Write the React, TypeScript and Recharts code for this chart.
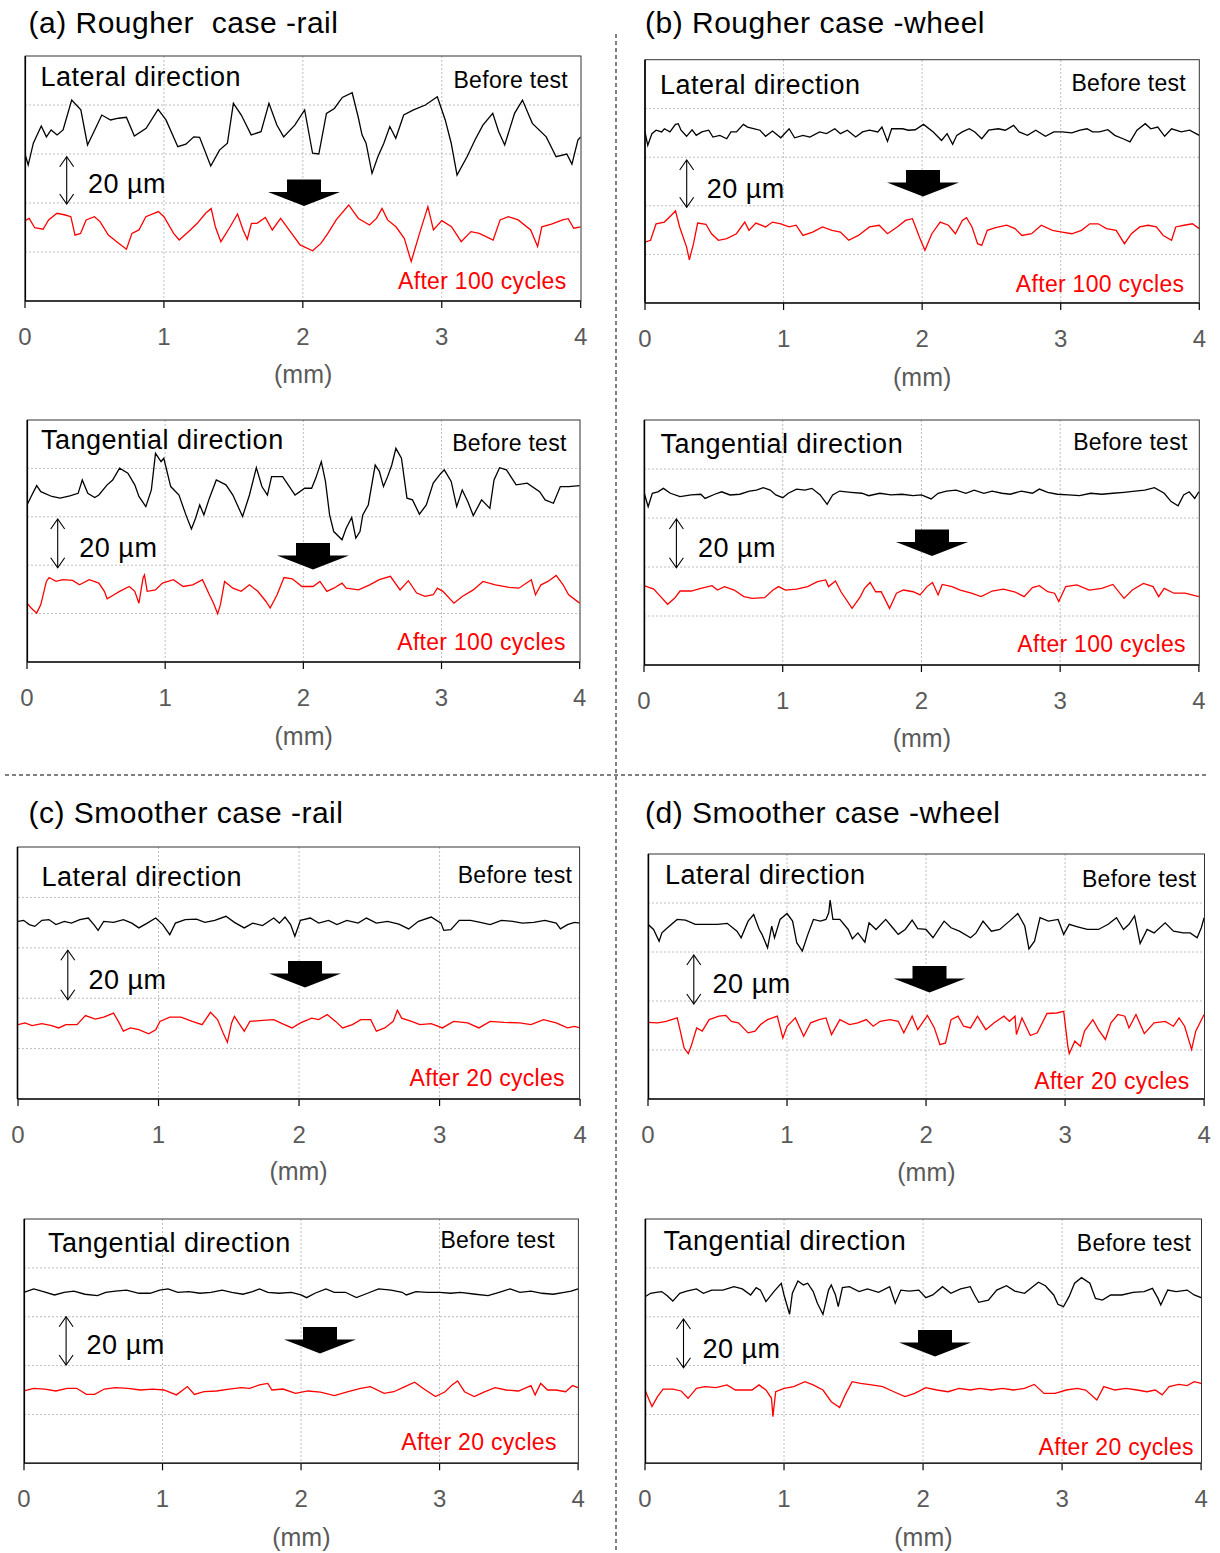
import React from 'react';
import { LineChart, Line, XAxis, YAxis, CartesianGrid } from 'recharts';

type P = [number, number];

const xTicks = [0, 1, 2, 3, 4];
const yTicks = [0, 20, 40, 60, 80, 100];
const gridX = [1, 2, 3];
const gridY = [20, 40, 60, 80];

const titles = ['(a) Rougher  case -rail', '(b) Rougher case -wheel', '(c) Smoother case -rail', '(d) Smoother case -wheel'];

const aLatBefore: P[] = [[0,60],[0.023,55.5],[0.06,64.4],[0.117,71.4],[0.154,67],[0.188,69.8],[0.231,67.8],[0.274,69.8],[0.336,82],[0.402,78],[0.45,63.7],[0.502,69.8],[0.553,75.9],[0.616,73.9],[0.673,74.6],[0.73,75],[0.787,67.3],[0.872,70.5],[0.958,78.2],[1.015,73.9],[1.1,63],[1.158,64],[1.215,67],[1.257,66.8],[1.337,55.1],[1.4,61.6],[1.457,64.4],[1.5,80.7],[1.557,75.9],[1.628,67.8],[1.699,69.1],[1.756,80.7],[1.813,71.8],[1.862,67],[1.942,71.8],[2.013,78],[2.07,60.3],[2.115,60],[2.17,76.6],[2.227,78.6],[2.284,83.1],[2.355,85],[2.398,75.2],[2.426,67.8],[2.455,64.4],[2.498,52.1],[2.54,58.9],[2.583,64.4],[2.626,71.2],[2.669,66.4],[2.726,75.9],[2.797,78],[2.882,80],[2.968,83.4],[3.025,73.9],[3.068,64.4],[3.11,51.4],[3.182,58.9],[3.239,65.7],[3.296,71.8],[3.367,76.6],[3.41,69.1],[3.453,63.7],[3.524,76.6],[3.581,82],[3.652,72.5],[3.752,67],[3.823,58.9],[3.9,60],[3.937,55.9],[3.98,65.7],[4,67]];
const aLatAfter: P[] = [[0,32.8],[0.03,33.7],[0.07,29.9],[0.13,29.3],[0.17,33.1],[0.23,35.8],[0.29,35.1],[0.33,34.4],[0.36,26.9],[0.40,27.6],[0.44,33.1],[0.50,34.4],[0.54,32.4],[0.60,26.9],[0.66,24.2],[0.73,21.1],[0.77,27.6],[0.82,29],[0.87,34.4],[0.96,36.5],[1.00,34.4],[1.07,27.6],[1.11,24.9],[1.19,29],[1.24,31.7],[1.30,35.8],[1.34,37.8],[1.37,30.3],[1.41,24.2],[1.47,29.7],[1.53,35.5],[1.57,29],[1.60,25.2],[1.63,31.7],[1.67,31.7],[1.73,34.1],[1.78,29],[1.84,33.7],[1.91,28.3],[1.98,22.9],[2.07,20.5],[2.13,23.5],[2.18,27.6],[2.24,33.1],[2.33,39.2],[2.40,33.7],[2.48,31],[2.53,33.7],[2.57,37.8],[2.61,33.1],[2.67,30.3],[2.73,25.6],[2.78,16.1],[2.84,27.6],[2.90,38.5],[2.94,29],[3.00,32.8],[3.07,30.3],[3.14,24.2],[3.21,28.3],[3.27,27.6],[3.37,24.9],[3.42,33.1],[3.48,34.4],[3.55,33.1],[3.64,29],[3.69,22.2],[3.72,30.3],[3.79,31.4],[3.87,33.1],[3.91,33.6],[3.95,29.7],[4,30.3]];
const aTanBefore: P[] = [[0,64.9],[0.03,68.4],[0.07,72.9],[0.10,70.4],[0.18,68.4],[0.24,67.7],[0.31,68.6],[0.37,69.7],[0.40,75.2],[0.44,69.7],[0.49,68],[0.52,69],[0.58,73.2],[0.62,75.2],[0.67,80.1],[0.73,78],[0.78,73.2],[0.81,68.4],[0.86,64.2],[0.90,71.1],[0.93,86.2],[0.97,82.8],[0.99,84.2],[1.04,72.5],[1.10,69],[1.15,60.8],[1.19,55],[1.22,59.4],[1.25,64.9],[1.28,60.8],[1.32,67.7],[1.37,75.2],[1.44,73.2],[1.49,69],[1.56,60.1],[1.61,69],[1.66,80.3],[1.70,72.5],[1.74,69],[1.77,76.6],[1.85,76.6],[1.89,73.2],[1.94,69],[2.01,71.8],[2.06,71.8],[2.09,76],[2.13,82.8],[2.16,74.6],[2.19,60.8],[2.22,53.9],[2.28,50.5],[2.31,55.3],[2.35,59.7],[2.38,51.2],[2.41,53.9],[2.43,60.8],[2.47,64.9],[2.52,81.4],[2.55,78.8],[2.58,72.5],[2.61,76.6],[2.64,81.4],[2.67,88.3],[2.71,84.2],[2.75,67.7],[2.79,67],[2.84,61.1],[2.89,64.9],[2.94,73.9],[2.99,77.6],[3.02,79.4],[3.07,74.6],[3.11,64.2],[3.15,71.1],[3.19,66.3],[3.23,60.5],[3.29,67],[3.35,63.5],[3.38,75.2],[3.42,80.3],[3.47,79.4],[3.54,73.2],[3.62,73.9],[3.71,70.4],[3.75,67],[3.81,65.6],[3.86,72.5],[3.92,72.5],[4,72.9]];
const aTanAfter: P[] = [[0,24.3],[0.03,22.3],[0.07,20.2],[0.10,23.7],[0.14,33.3],[0.16,34.9],[0.21,33.3],[0.26,34],[0.33,33.7],[0.38,31.9],[0.45,34],[0.52,32.6],[0.56,29.2],[0.58,26.1],[0.63,27.8],[0.67,29.2],[0.74,31.2],[0.78,29.2],[0.81,24.3],[0.84,34.7],[0.85,36],[0.87,29.2],[0.93,29.8],[0.98,32.6],[1.06,34],[1.13,31.2],[1.20,31.9],[1.27,34],[1.32,27.8],[1.35,24.3],[1.38,19.9],[1.40,23.7],[1.43,33.3],[1.49,30.5],[1.55,29.2],[1.61,31.9],[1.67,29.2],[1.73,25],[1.76,22.3],[1.81,27.8],[1.86,34.9],[1.92,34.4],[1.99,31.2],[2.07,31.2],[2.12,33.3],[2.17,29.2],[2.22,30.5],[2.28,32.6],[2.31,30.5],[2.40,29.8],[2.48,31.9],[2.55,34],[2.63,35.4],[2.70,29.8],[2.76,33.6],[2.82,28.5],[2.88,27.1],[2.94,27.8],[2.97,30.5],[3.01,29.2],[3.09,24.3],[3.15,27.1],[3.23,29.8],[3.30,33.3],[3.39,31.9],[3.49,30.8],[3.56,30.5],[3.65,34],[3.68,27.8],[3.72,31.9],[3.77,33.3],[3.83,35.8],[3.88,31.9],[3.92,27.8],[4,24.3]];

const bLatBefore: P[] = [[0,70.4],[0.02,64.9],[0.05,69.7],[0.08,71.1],[0.12,70.4],[0.14,71.7],[0.18,70.4],[0.22,73.5],[0.24,73.8],[0.26,71.1],[0.30,68.6],[0.34,71.3],[0.37,69],[0.41,70.4],[0.46,71.1],[0.49,68.3],[0.54,69],[0.59,67.6],[0.62,70.4],[0.66,70.4],[0.71,73.5],[0.74,72.4],[0.79,71.7],[0.83,71.1],[0.87,68.6],[0.92,70.8],[0.98,68],[1.04,71.7],[1.08,68],[1.14,69],[1.19,68.3],[1.26,70.4],[1.31,69.7],[1.37,71.7],[1.41,69.7],[1.46,71.1],[1.52,68.3],[1.57,70.4],[1.62,71.1],[1.68,70.4],[1.71,72.4],[1.75,66.5],[1.78,71.7],[1.86,71.7],[1.90,71.1],[1.95,71.3],[2.01,73.5],[2.08,70.4],[2.14,66.9],[2.18,69.7],[2.22,65.3],[2.25,69],[2.29,70.4],[2.34,71.7],[2.38,70.4],[2.43,67.6],[2.48,71.1],[2.55,71.7],[2.60,71.1],[2.66,73.1],[2.70,70.4],[2.76,69],[2.82,71.1],[2.89,68.6],[2.95,70.4],[3.01,70.4],[3.08,70],[3.14,71.1],[3.19,71.7],[3.23,70.4],[3.28,70.4],[3.34,71.3],[3.39,69],[3.45,67.6],[3.50,66.3],[3.55,71.1],[3.61,73.8],[3.65,71.7],[3.70,72.4],[3.75,68.6],[3.80,71.7],[3.87,70.4],[3.93,71.1],[4,69]];
const bLatAfter: P[] = [[0,25.1],[0.04,25.8],[0.08,32.6],[0.14,33.3],[0.19,36.1],[0.22,37.9],[0.25,31.3],[0.30,23],[0.32,17.8],[0.35,24.4],[0.38,32.9],[0.44,32.4],[0.48,28.5],[0.53,25.8],[0.59,26.5],[0.66,28.5],[0.72,33.3],[0.75,29.9],[0.80,32.9],[0.87,31.3],[0.92,33.3],[0.98,32.6],[1.04,31.3],[1.09,32],[1.14,27.8],[1.21,29.2],[1.28,31.3],[1.35,29.9],[1.41,29.2],[1.47,25.8],[1.54,27.8],[1.62,31.3],[1.69,32],[1.75,28.5],[1.82,31.3],[1.88,34],[1.93,34.7],[1.98,27.2],[2.02,21.7],[2.07,28.5],[2.13,33.3],[2.19,32],[2.24,28.5],[2.29,34],[2.32,35.1],[2.36,31.3],[2.40,24.4],[2.43,23.7],[2.47,29.9],[2.53,31],[2.61,32],[2.67,30.6],[2.72,27.8],[2.79,28.5],[2.86,32],[2.94,29.9],[3.01,29.2],[3.08,28.5],[3.15,29.9],[3.21,32.6],[3.27,32.6],[3.33,30.6],[3.40,29.9],[3.46,24.4],[3.51,28.5],[3.57,31.3],[3.63,32],[3.69,31.3],[3.74,27.8],[3.80,25.8],[3.83,31.3],[3.89,32],[3.95,32.6],[4,30.6]];
const bTanBefore: P[] = [[0,70.5],[0.03,64.6],[0.06,70.1],[0.10,70.7],[0.14,72.1],[0.19,70.1],[0.26,68.7],[0.34,69.4],[0.41,69.7],[0.44,68],[0.51,69.7],[0.56,70.7],[0.62,69.4],[0.69,69.7],[0.76,71],[0.81,71.4],[0.86,72.4],[0.91,71.4],[0.95,69.4],[1.00,68.3],[1.04,70.1],[1.10,71.8],[1.16,71.4],[1.21,72.1],[1.27,69.4],[1.32,65.6],[1.36,69.4],[1.41,71],[1.49,70.5],[1.57,70.1],[1.62,69.1],[1.70,70.1],[1.78,69.4],[1.86,69.7],[1.94,69.1],[2.00,69.4],[2.07,67.8],[2.12,70.1],[2.18,71],[2.25,71.4],[2.32,70.1],[2.38,71.4],[2.45,70.1],[2.51,71],[2.58,70.1],[2.64,69.7],[2.72,71],[2.80,70.1],[2.85,71.8],[2.91,70.5],[2.98,69.7],[3.06,69.4],[3.14,69.1],[3.22,70.1],[3.30,69.7],[3.38,70.1],[3.46,70.5],[3.54,71],[3.61,71.4],[3.68,72.4],[3.75,70.1],[3.80,66.7],[3.85,65],[3.89,69.4],[3.93,70.7],[3.97,68],[4,70.7]];
const bTanAfter: P[] = [[0,32.4],[0.07,31],[0.12,27.9],[0.17,24.8],[0.22,27.2],[0.26,30.2],[0.34,30.2],[0.41,31.3],[0.49,32.4],[0.53,30.6],[0.58,32],[0.65,30.6],[0.72,27.9],[0.78,27.2],[0.87,27.5],[0.93,30.6],[0.97,32],[1.02,30.6],[1.10,31],[1.18,32],[1.25,34],[1.31,34.7],[1.33,32],[1.38,34.3],[1.42,29.9],[1.50,23.1],[1.56,27.9],[1.59,31.3],[1.63,33.7],[1.67,29.9],[1.71,29.9],[1.77,23.1],[1.82,29.3],[1.87,30.6],[1.94,29.9],[1.99,28.6],[2.04,32],[2.08,33.7],[2.12,28.6],[2.15,32.9],[2.22,32],[2.28,30.6],[2.36,29.3],[2.43,27.9],[2.51,30.2],[2.59,31],[2.67,29.9],[2.74,27.9],[2.80,31.6],[2.85,32.4],[2.91,29.9],[2.96,29.3],[2.99,25.9],[3.04,32],[3.12,32.7],[3.21,30.6],[3.30,31.3],[3.38,32.9],[3.46,27.2],[3.52,30.6],[3.60,33.3],[3.67,32],[3.71,27.9],[3.75,31.3],[3.82,29.3],[3.90,29.3],[4,27.9]];

const cLatBefore: P[] = [[0,70.5],[0.04,70.9],[0.08,69.2],[0.12,68.5],[0.17,70.9],[0.22,71.2],[0.27,69.2],[0.33,70.5],[0.38,69.8],[0.44,71.2],[0.50,71.8],[0.54,69.2],[0.57,66.9],[0.61,70.5],[0.68,70.1],[0.75,71.2],[0.81,69.8],[0.86,67.9],[0.92,69.8],[0.98,71.8],[1.03,69.2],[1.08,65.2],[1.12,69.8],[1.19,71.2],[1.27,71.4],[1.33,70.1],[1.40,70.9],[1.48,72.5],[1.54,70.1],[1.61,67.9],[1.67,69.8],[1.74,68.8],[1.82,71.8],[1.86,69.8],[1.90,72.2],[1.94,69.2],[1.97,64.6],[2.01,70.9],[2.08,71.8],[2.14,69.8],[2.21,70.9],[2.27,69.2],[2.34,70.9],[2.42,69.8],[2.48,71.8],[2.55,69.8],[2.63,70.5],[2.71,69.4],[2.78,67.5],[2.85,70.5],[2.94,72.2],[3.01,69.8],[3.03,66.9],[3.08,67.2],[3.14,70.9],[3.22,70.9],[3.29,70.1],[3.36,69.2],[3.44,70.9],[3.52,70.5],[3.59,69.8],[3.67,70.1],[3.75,70.9],[3.83,69.8],[3.86,67.5],[3.91,69.2],[3.96,70.1],[4,69.8]];
const cLatAfter: P[] = [[0,29.5],[0.05,30.2],[0.10,29.1],[0.17,29.9],[0.24,29.1],[0.29,28.2],[0.34,29.5],[0.42,29.5],[0.48,33.1],[0.55,31.7],[0.61,32.5],[0.68,34.1],[0.72,30.2],[0.75,26.9],[0.80,28.2],[0.86,27.5],[0.93,25.9],[0.98,27.5],[1.01,30.8],[1.08,32.5],[1.16,32.5],[1.24,30.8],[1.31,29.5],[1.37,34.4],[1.42,31.5],[1.46,26.2],[1.49,22.5],[1.52,30.2],[1.54,32.8],[1.57,30.2],[1.61,26.9],[1.65,30.8],[1.74,31.2],[1.82,31.5],[1.88,29.9],[1.95,28.2],[2.01,30.2],[2.09,32.1],[2.14,31.5],[2.20,33.5],[2.26,30.8],[2.31,28.2],[2.38,29.5],[2.44,31.5],[2.51,31.5],[2.55,26.9],[2.61,28.2],[2.67,30.8],[2.70,35.2],[2.73,32.1],[2.80,30.8],[2.86,29.5],[2.94,29.9],[3.02,28.2],[3.10,30.8],[3.20,30.2],[3.28,28.2],[3.36,30.8],[3.46,30.4],[3.57,30.2],[3.65,29.5],[3.74,31.5],[3.83,30.2],[3.91,28.2],[3.96,28.8],[4,28.2]];
const cTanBefore: P[] = [[0,70],[0.07,71.4],[0.14,70.3],[0.22,68.9],[0.29,70],[0.36,70.5],[0.44,69.2],[0.53,68.6],[0.59,70],[0.66,70.5],[0.74,70.9],[0.83,69.6],[0.91,69.6],[0.98,70.9],[1.04,71.4],[1.11,70],[1.19,70.3],[1.27,69.6],[1.35,70],[1.43,70.9],[1.50,70],[1.58,69.2],[1.65,70.3],[1.70,71.4],[1.76,70],[1.84,69.6],[1.93,70],[2.00,68.9],[2.04,67.8],[2.10,69.6],[2.18,71.4],[2.24,70],[2.32,70],[2.40,67.8],[2.48,69.6],[2.56,71.4],[2.65,70.9],[2.73,70],[2.76,68.9],[2.83,70.3],[2.91,70],[3.00,70],[3.08,69.6],[3.15,70],[3.26,69.2],[3.35,68.6],[3.43,70],[3.51,71.4],[3.58,70],[3.66,70.5],[3.74,69.6],[3.82,69.2],[3.90,70],[3.95,70.5],[4,71.4]];
const cTanAfter: P[] = [[0,29.6],[0.07,30.7],[0.15,30.4],[0.23,29.6],[0.31,30.7],[0.38,30.7],[0.45,28.2],[0.51,28.2],[0.58,30.4],[0.66,31],[0.75,30.7],[0.84,30],[0.93,30.4],[1.01,30],[1.10,28],[1.18,31.4],[1.23,28.2],[1.30,29.3],[1.39,29.6],[1.48,30.4],[1.57,31],[1.63,30.7],[1.70,32.1],[1.76,32.7],[1.79,30],[1.87,30.4],[1.96,28.6],[2.05,29.6],[2.14,29.1],[2.24,27.7],[2.34,29.3],[2.43,30.7],[2.50,31.4],[2.60,28.6],[2.67,29.3],[2.75,31.4],[2.82,33.2],[2.88,30.7],[2.97,27.3],[3.04,29.3],[3.09,32.1],[3.13,33.7],[3.18,29.3],[3.25,27.3],[3.32,29.1],[3.40,31],[3.48,30],[3.57,29.6],[3.66,31.8],[3.69,28],[3.73,32.7],[3.78,30],[3.84,30],[3.91,29.3],[3.96,31.8],[4,31]];

const dLatBefore: P[] = [[0,71.3],[0.04,69.2],[0.08,64.4],[0.10,67.8],[0.14,69.9],[0.21,73.3],[0.27,73],[0.34,71.3],[0.42,71.3],[0.50,71.3],[0.57,71.7],[0.64,68.5],[0.67,65.8],[0.72,72.6],[0.76,75.3],[0.80,69.2],[0.82,67.2],[0.86,61.7],[0.89,70.6],[0.91,65.8],[0.95,73.3],[1.00,75.7],[1.04,72.6],[1.07,63.8],[1.11,60.4],[1.15,67.2],[1.19,73.3],[1.24,72.6],[1.28,73.3],[1.30,76],[1.31,81.2],[1.33,73.3],[1.38,73.3],[1.44,69.2],[1.47,65.4],[1.51,67.8],[1.56,64],[1.59,71.9],[1.64,69.2],[1.71,73.3],[1.76,69.9],[1.80,67.2],[1.85,69.2],[1.90,73],[1.94,69.5],[2.00,69.2],[2.05,65.8],[2.09,69.2],[2.13,72.6],[2.18,69.9],[2.24,68.5],[2.32,65.8],[2.36,67.8],[2.41,72.6],[2.47,68.5],[2.53,69.2],[2.60,72.6],[2.66,75.7],[2.71,70.6],[2.74,61.3],[2.78,64.4],[2.82,74],[2.88,72.6],[2.95,73.3],[2.99,67.2],[3.03,71.3],[3.09,70.3],[3.16,69.2],[3.24,69.2],[3.31,71.3],[3.37,74],[3.42,69.2],[3.46,71.3],[3.50,74.7],[3.54,63.5],[3.59,69.2],[3.64,67.8],[3.72,71.9],[3.78,68.5],[3.85,67.8],[3.90,67.8],[3.95,65.8],[3.98,69.9],[4,74]];
const dLatAfter: P[] = [[0,31.3],[0.07,31.1],[0.13,31.7],[0.21,33.1],[0.23,28.3],[0.26,20.8],[0.29,18.5],[0.31,21.5],[0.35,29],[0.39,27.7],[0.44,32.4],[0.51,33.8],[0.56,34.1],[0.60,31.7],[0.65,31.1],[0.72,27],[0.77,27.7],[0.81,30.4],[0.86,32.4],[0.93,33.8],[0.97,24.9],[1.00,29.7],[1.06,33.1],[1.12,25.6],[1.17,31.1],[1.23,32.4],[1.28,33.1],[1.32,26.3],[1.38,32.4],[1.45,30.4],[1.51,31.1],[1.57,32.4],[1.62,29.7],[1.67,31.7],[1.74,32.4],[1.80,31.7],[1.84,27],[1.90,33.8],[1.94,28.3],[2.01,34.1],[2.06,29],[2.10,22.2],[2.14,22.9],[2.18,32.4],[2.23,33.8],[2.27,29.7],[2.32,29],[2.37,33.8],[2.43,28.3],[2.49,31.1],[2.56,33.8],[2.60,31.7],[2.64,33.8],[2.65,26.3],[2.69,33.1],[2.75,25.9],[2.80,27],[2.87,34.9],[2.94,35.1],[2.99,35.8],[3.02,21.5],[3.03,18.5],[3.07,23.6],[3.11,21.5],[3.14,27.7],[3.20,32.4],[3.24,28.3],[3.29,24.3],[3.33,31.1],[3.38,34.5],[3.43,33.8],[3.46,29],[3.51,34.5],[3.57,26.7],[3.64,31.1],[3.72,31.7],[3.78,29.7],[3.82,33.1],[3.86,29.7],[3.91,20.2],[3.94,27.7],[4,34.5]];
const dTanBefore: P[] = [[0,68.2],[0.04,69.6],[0.08,70],[0.12,70.3],[0.16,68.6],[0.20,66.4],[0.25,69.6],[0.30,70.5],[0.37,71.4],[0.42,69.6],[0.48,70.9],[0.56,70.9],[0.64,72.3],[0.70,71.4],[0.76,68.9],[0.80,71.9],[0.83,70.9],[0.87,66.2],[0.93,70.5],[0.98,73.7],[1.00,68.9],[1.04,61],[1.06,69.6],[1.10,74.6],[1.14,73],[1.17,73.7],[1.21,70.3],[1.24,65.5],[1.28,61],[1.32,70.9],[1.34,73],[1.37,68.9],[1.39,64.1],[1.42,71.9],[1.47,72.3],[1.54,70.3],[1.60,71.4],[1.68,70],[1.76,72.3],[1.80,65.5],[1.84,70.9],[1.90,70.5],[1.97,70.9],[2.02,67.8],[2.07,68.9],[2.14,72.3],[2.20,69.6],[2.27,71.4],[2.34,72.3],[2.37,68.9],[2.40,65.9],[2.47,66.8],[2.53,70.9],[2.60,72.7],[2.66,70.5],[2.73,69.6],[2.78,71.9],[2.83,74.1],[2.88,72.7],[2.94,68.9],[2.97,65.1],[3.01,64.1],[3.05,68.2],[3.09,73.7],[3.14,76],[3.20,73.7],[3.24,67.5],[3.29,66.8],[3.35,68.9],[3.43,68.9],[3.51,70],[3.59,70.3],[3.65,71.6],[3.69,67.5],[3.71,64.8],[3.76,70.9],[3.82,70.3],[3.90,70.9],[3.95,68.9],[4,67.8]];
const dTanAfter: P[] = [[0,30],[0.03,25.9],[0.05,23.2],[0.09,27.3],[0.13,30.4],[0.20,30.4],[0.26,29.6],[0.31,26.6],[0.37,30.7],[0.43,31.4],[0.51,31],[0.59,32.1],[0.65,30],[0.72,30],[0.77,30],[0.82,32.1],[0.87,30],[0.91,26.6],[0.92,19.1],[0.94,29.3],[1.00,30.7],[1.07,31.4],[1.15,33.4],[1.21,32.1],[1.28,30],[1.34,25.2],[1.40,22.8],[1.44,28],[1.49,33.4],[1.55,32.7],[1.63,32.1],[1.71,31.4],[1.79,29.3],[1.87,27.3],[1.94,28.6],[2.02,31],[2.10,30],[2.18,29.3],[2.26,30.7],[2.34,30],[2.41,30.7],[2.49,30],[2.57,30.7],[2.65,30],[2.73,30.7],[2.80,32.3],[2.87,28.6],[2.95,28.6],[3.03,30],[3.11,30.7],[3.17,30],[3.25,25.9],[3.30,31.4],[3.38,30],[3.46,30.7],[3.54,30],[3.61,29.3],[3.67,30],[3.72,28],[3.77,31.4],[3.84,32.3],[3.90,31.8],[3.95,33.4],[4,32.7]];

const toRows = (arr: P[]) => arr.map(([x, y]) => ({ x, y }));

const FONT = '"Liberation Sans", Arial, Helvetica, sans-serif';

interface Cfg {
  box: { x: number; y: number; w: number; h: number };
  before: P[]; after: P[];
  dir: string; afterLabel: string;
  dirX: number; dirY: number; beforeR: number; beforeY: number; afterR: number; afterY: number;
  arrX: number; arrT: number; arrB: number; umX: number; umY: number; blkX: number; blkT: number; mmY: number;
}

const panels: Cfg[] = [
  { box: { x: 25.3, y: 56, w: 555.7, h: 245 }, before: aLatBefore, after: aLatAfter, dir: 'Lateral direction', afterLabel: 'After 100 cycles',
    dirX: 40.5, dirY: 86, beforeR: 568, beforeY: 87.5, afterR: 566.5, afterY: 288.5, arrX: 66.7, arrT: 156.7, arrB: 204, umX: 88, umY: 193, blkX: 304, blkT: 179.5, mmY: 383 },
  { box: { x: 27.3, y: 420, w: 552.7, h: 242 }, before: aTanBefore, after: aTanAfter, dir: 'Tangential direction', afterLabel: 'After 100 cycles',
    dirX: 41, dirY: 448.5, beforeR: 566.7, beforeY: 450.7, afterR: 565.7, afterY: 650, arrX: 57.7, arrT: 519, arrB: 567.7, umX: 79.3, umY: 556.7, blkX: 313, blkT: 543, mmY: 745 },
  { box: { x: 645, y: 59.7, w: 554.3, h: 243 }, before: bLatBefore, after: bLatAfter, dir: 'Lateral direction', afterLabel: 'After 100 cycles',
    dirX: 660, dirY: 94.3, beforeR: 1186, beforeY: 91, afterR: 1184.3, afterY: 291.7, arrX: 686.7, arrT: 160, arrB: 207.3, umX: 706.7, umY: 197.7, blkX: 923, blkT: 170, mmY: 386 },
  { box: { x: 644.4, y: 420, w: 554.9, h: 245 }, before: bTanBefore, after: bTanAfter, dir: 'Tangential direction', afterLabel: 'After 100 cycles',
    dirX: 660.5, dirY: 453.3, beforeR: 1187.7, beforeY: 450, afterR: 1185.8, afterY: 651.7, arrX: 676.4, arrT: 519, arrB: 567.7, umX: 698, umY: 556.7, blkX: 932, blkT: 529.5, mmY: 747 },
  { box: { x: 17.5, y: 847, w: 562.1, h: 252 }, before: cLatBefore, after: cLatAfter, dir: 'Lateral direction', afterLabel: 'After 20 cycles',
    dirX: 41.5, dirY: 886.3, beforeR: 572.2, beforeY: 883, afterR: 564.9, afterY: 1085.7, arrX: 67.8, arrT: 950.3, arrB: 999.7, umX: 88.4, umY: 989, blkX: 305, blkT: 961, mmY: 1180 },
  { box: { x: 24.3, y: 1219, w: 554.1, h: 244.3 }, before: cTanBefore, after: cTanAfter, dir: 'Tangential direction', afterLabel: 'After 20 cycles',
    dirX: 48, dirY: 1252.3, beforeR: 555, beforeY: 1247.7, afterR: 556.7, afterY: 1450, arrX: 66.1, arrT: 1316.7, arrB: 1365, umX: 86.6, umY: 1354.3, blkX: 320, blkT: 1327, mmY: 1546 },
  { box: { x: 648.4, y: 854, w: 556.1, h: 245 }, before: dLatBefore, after: dLatAfter, dir: 'Lateral direction', afterLabel: 'After 20 cycles',
    dirX: 665, dirY: 884.3, beforeR: 1196.5, beforeY: 886.7, afterR: 1189.6, afterY: 1089.3, arrX: 693.8, arrT: 955, arrB: 1004, umX: 712.6, umY: 993.3, blkX: 929.5, blkT: 966, mmY: 1181 },
  { box: { x: 645.4, y: 1219, w: 556.1, h: 244.3 }, before: dTanBefore, after: dTanAfter, dir: 'Tangential direction', afterLabel: 'After 20 cycles',
    dirX: 663.5, dirY: 1250, beforeR: 1191.3, beforeY: 1251, afterR: 1193.9, afterY: 1455, arrX: 683.5, arrT: 1319, arrB: 1367.7, umX: 702.4, umY: 1357.7, blkX: 935, blkT: 1330, mmY: 1546 },
];

const titlePos = [
  { x: 28.5, y: 33 },
  { x: 645, y: 33 },
  { x: 28.5, y: 823 },
  { x: 645, y: 823 },
];

const ML = 10, MR = 10, MT = 5, XH = 60, MB = 2;

const EmptyTick = () => <g />;

function PanelChart({ cfg }: { cfg: Cfg }) {
  const { box } = cfg;
  const W = box.w + ML + MR;
  const H = box.h + MT + XH + MB;
  return (
    <div style={{ position: 'absolute', left: box.x - ML, top: box.y - MT, width: W, height: H }}>
      <LineChart width={W} height={H} margin={{ top: MT, right: MR, bottom: MB, left: ML }}>
        <CartesianGrid stroke="#bdbdbd" strokeDasharray="2 2" strokeWidth={1}
          horizontalValues={gridY} verticalValues={gridX} />
        <XAxis type="number" dataKey="x" domain={[0, 4]} ticks={xTicks} interval={0} height={XH}
          tickSize={7} tickMargin={20} allowDataOverflow
          axisLine={{ stroke: '#000', strokeWidth: 1.6 }} tickLine={{ stroke: '#000', strokeWidth: 1.2 }}
          tick={{ fill: '#5a5a5a', fontSize: 24, fontFamily: FONT }} />
        <YAxis type="number" domain={[0, 100]} ticks={yTicks} interval={0} width={0} tick={<EmptyTick />} axisLine={false} tickLine={false} allowDataOverflow />
        <Line data={toRows(cfg.before)} dataKey="y" type="linear" stroke="#000000" strokeWidth={1.3} dot={false} activeDot={false} isAnimationActive={false} />
        <Line data={toRows(cfg.after)} dataKey="y" type="linear" stroke="#ff0000" strokeWidth={1.3} dot={false} activeDot={false} isAnimationActive={false} />
      </LineChart>
    </div>
  );
}

function Decor({ cfg }: { cfg: Cfg }) {
  const { box } = cfg;
  const T = cfg.blkT, cx = cfg.blkX;
  const blk = [
    [cx - 17, T], [cx + 17, T], [cx + 17, T + 12.5], [cx + 36, T + 12.5], [cx, T + 26.5], [cx - 36, T + 12.5], [cx - 17, T + 12.5],
  ].map((p) => p.join(',')).join(' ');
  return (
    <g>
      <rect x={box.x} y={box.y} width={box.w} height={box.h} fill="none" stroke="#333" strokeWidth={1} />
      <line x1={box.x} y1={box.y} x2={box.x} y2={box.y + box.h} stroke="#000" strokeWidth={1.6} />
      <text x={cfg.dirX} y={cfg.dirY} fontSize={27} letterSpacing={0.5} fill="#000">{cfg.dir}</text>
      <text x={cfg.beforeR} y={cfg.beforeY} fontSize={23} letterSpacing={0.3} textAnchor="end" fill="#000">Before test</text>
      <text x={cfg.afterR} y={cfg.afterY} fontSize={23} letterSpacing={0.3} textAnchor="end" fill="#ff0000">{cfg.afterLabel}</text>
      <text x={cfg.umX} y={cfg.umY} fontSize={27} letterSpacing={0.5} fill="#000">20 µm</text>
      <line x1={cfg.arrX} y1={cfg.arrT} x2={cfg.arrX} y2={cfg.arrB} stroke="#000" strokeWidth={1.1} />
      <polyline points={`${cfg.arrX - 7},${cfg.arrT + 10} ${cfg.arrX},${cfg.arrT} ${cfg.arrX + 7},${cfg.arrT + 10}`} fill="none" stroke="#000" strokeWidth={1.1} />
      <polyline points={`${cfg.arrX - 7},${cfg.arrB - 10} ${cfg.arrX},${cfg.arrB} ${cfg.arrX + 7},${cfg.arrB - 10}`} fill="none" stroke="#000" strokeWidth={1.1} />
      <polygon points={blk} fill="#000" />
      <text x={box.x + box.w / 2} y={cfg.mmY} fontSize={25} textAnchor="middle" fill="#5a5a5a">(mm)</text>
    </g>
  );
}

export default function App() {
  return (
    <div style={{ position: 'absolute', left: 0, top: 0, width: 1220, height: 1553, background: '#fff', fontFamily: FONT, overflow: 'hidden' }}>
      {panels.map((p, i) => <PanelChart key={i} cfg={p} />)}
      <svg width={1220} height={1553} style={{ position: 'absolute', left: 0, top: 0, pointerEvents: 'none' }} fontFamily={FONT}>
        {titles.map((t, i) => (
          <text key={i} x={titlePos[i].x} y={titlePos[i].y} fontSize={30} letterSpacing={0.5} fill="#000" style={{ whiteSpace: 'pre' }}>{t}</text>
        ))}
        <line x1={616} y1={34} x2={616} y2={1553} stroke="#000" strokeWidth={1} strokeDasharray="4 3" />
        <line x1={5} y1={775} x2={1208} y2={775} stroke="#000" strokeWidth={1} strokeDasharray="4 3" />
        {panels.map((p, i) => <Decor key={i} cfg={p} />)}
      </svg>
    </div>
  );
}
